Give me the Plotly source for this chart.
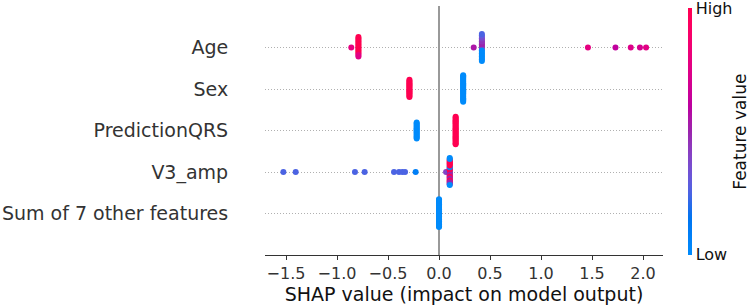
import math
import numpy as np
import plotly.graph_objects as go

# ---------------- data ----------------
features = ["Age", "Sex", "PredictionQRS", "V3_amp", "Sum of 7 other features"]

# each cluster: SHAP value and list of (normalised) feature values of the points in it
age_cluster_shap = [-0.79, -0.86, 0.34, 0.42, 1.46, 1.73, 1.88, 1.97, 2.03]
age_cluster_feature = [
    [1, 1, 1, 1, 1, 1, 1, 1, 1, 1, 0.8, 1, 0.75, 1],
    [0.78],
    [0.55],
    [0.5, 0.5, 0.4, 0.5, 0.0, 0.5, 0.0, 0.45, 0.0, 0.45, 0.0, 0.4, 0.0, 0.35, 0.0, 0.3, 0.0, 0.25, 0.0],
    [0.78], [0.62], [0.74], [0.7], [0.76],
]

sex_cluster_shap = [-0.29, 0.237]
sex_cluster_feature = [
    [1] * 16,
    [0] * 24,
]

qrs_cluster_shap = [-0.219, 0.163]
qrs_cluster_feature = [
    [0] * 15,
    [1] * 25,
]

v3_cluster_shap = [-1.526, -1.405, -0.824, -0.729, -0.441, -0.392, -0.36, -0.333, -0.229, 0.069, 0.105]
v3_cluster_feature = [
    [0.25], [0.25], [0.25], [0.25], [0.25], [0.25], [0.25], [0.25], [0.08], [0.4],
    [0, 0, 0, 1, 1, 1, 0.5, 1, 0.5, 0, 1, 0, 1, 1, 0.5, 1, 0.5, 1, 1, 1,
     1, 1, 0.5, 1, 0.5, 1, 0.5, 0, 0, 0],
]

sum_cluster_shap = [0.0]
sum_cluster_feature = [[0] * 40]

x_ticks = [-1.5, -1.0, -0.5, 0.0, 0.5, 1.0, 1.5, 2.0]
colorbar_labels = ["Low", "High"]
x_title = "SHAP value (impact on model output)"
colorbar_title = "Feature value"

rows = [
    (age_cluster_shap, age_cluster_feature),
    (sex_cluster_shap, sex_cluster_feature),
    (qrs_cluster_shap, qrs_cluster_feature),
    (v3_cluster_shap, v3_cluster_feature),
    (sum_cluster_shap, sum_cluster_feature),
]

# ---------------- shap red_blue colormap (LCh interpolation) ----------------
def lch_to_rgb(L, C, h):
    a = C * math.cos(h)
    b = C * math.sin(h)
    fy = (L + 16) / 116
    fx = fy + a / 500
    fz = fy - b / 200

    def finv(t):
        return t ** 3 if t > 6 / 29 else 3 * (6 / 29) ** 2 * (t - 4 / 29)

    X = 0.95047 * finv(fx)
    Y = finv(fy)
    Z = 1.08883 * finv(fz)
    r = 3.2406 * X - 1.5372 * Y - 0.4986 * Z
    g = -0.9689 * X + 1.8758 * Y + 0.0415 * Z
    bb = 0.0557 * X - 0.2040 * Y + 1.0570 * Z

    def gam(c):
        c = c * 12.92 if c <= 0.0031308 else 1.055 * c ** (1 / 2.4) - 0.055
        return int(round(255 * min(1, max(0, c))))

    return "rgb(%d,%d,%d)" % (gam(r), gam(g), gam(bb))


colorscale = []
for t in np.linspace(0, 1, 21):
    L = 54 - 28 * t if t <= 0.5 else 40 + 28 * (t - 0.5)
    C = 70 + 20 * t
    h = 4.6588 + t * (0.35470565 + 2 * np.pi - 4.6588)
    colorscale.append([float(t), lch_to_rgb(L, C, h)])

# ---------------- beeswarm layout (as in shap) ----------------
row_height = 0.4
fig = go.Figure()
n_rows = len(features)
for i, (cshap, cfeat) in enumerate(rows):
    pos = n_rows - 1 - i
    shaps = []
    vals = []
    for s, fl in zip(cshap, cfeat):
        for v in fl:
            shaps.append(s)
            vals.append(v)
    shaps = np.array(shaps, dtype=float)
    vals = np.array(vals, dtype=float)
    N = len(shaps)
    nbins = 100
    quant = np.round(nbins * (shaps - shaps.min()) / (shaps.max() - shaps.min() + 1e-8))
    inds = np.argsort(quant, kind="stable")
    layer = 0
    last_bin = -1
    ys = np.zeros(N)
    for ind in inds:
        if quant[ind] != last_bin:
            layer = 0
        ys[ind] = math.ceil(layer / 2) * ((layer % 2) * 2 - 1)
        layer += 1
        last_bin = quant[ind]
    ys *= 0.9 * (row_height / np.max(ys + 1))
    fig.add_trace(go.Scatter(
        x=shaps, y=pos + ys, mode="markers",
        marker=dict(size=6, color=vals, coloraxis="coloraxis", line=dict(width=0), opacity=1),
        showlegend=False, hoverinfo="x",
    ))

font_family = "DejaVu Sans"
fig.update_layout(
    width=750, height=308, autosize=False,
    margin=dict(l=265, r=87, t=6, b=53, autoexpand=False),
    paper_bgcolor="white", plot_bgcolor="white",
    font=dict(family=font_family, color="#333333"),
    coloraxis=dict(
        colorscale=colorscale, cmin=0, cmax=1,
        colorbar=dict(
            thickness=4, thicknessmode="pixels",
            len=247, lenmode="pixels",
            x=1.0628, xanchor="left", xref="paper",
            y=0.496, yanchor="middle",
            xpad=0, ypad=0, outlinewidth=0,
            tickvals=[0.003, 0.997], ticktext=colorbar_labels, ticks="",
            ticklabeloverflow="allow",
            tickfont=dict(size=16, color="#111111", family=font_family),
            title=dict(text=""),
        ),
    ),
    xaxis=dict(
        range=[-1.706, 2.196], tickvals=x_ticks, tickformat=".1f",
        showline=True, linecolor="#333333", linewidth=1,
        ticks="outside", ticklen=4, tickcolor="#333333", tickwidth=1,
        showgrid=False, zeroline=True, zerolinecolor="#999999", zerolinewidth=2,
        tickfont=dict(size=16, color="#333333"), automargin=False,
        title=dict(text=x_title, font=dict(size=19, color="#111111"), standoff=0),
    ),
    yaxis=dict(
        range=[-1, 5], tickvals=[n_rows - 1 - i for i in range(n_rows)], ticktext=features,
        showgrid=True, gridcolor="#b0b0b0", gridwidth=1, griddash="1px,2px",
        zeroline=False, showline=False, automargin=False,
        ticks="outside", ticklen=32, tickcolor="rgba(0,0,0,0)",
        tickfont=dict(size=19, color="#333333"),
    ),
    annotations=[dict(
        text=colorbar_title, x=1.194, xref="paper", y=0.496, yref="paper",
        textangle=-90, showarrow=False, xanchor="center", yanchor="middle",
        font=dict(size=17, color="#111111", family=font_family),
    )],
)

fig.write_html("out.html", config={"displayModeBar": False},
               post_script="document.body.style.margin='0px';")
